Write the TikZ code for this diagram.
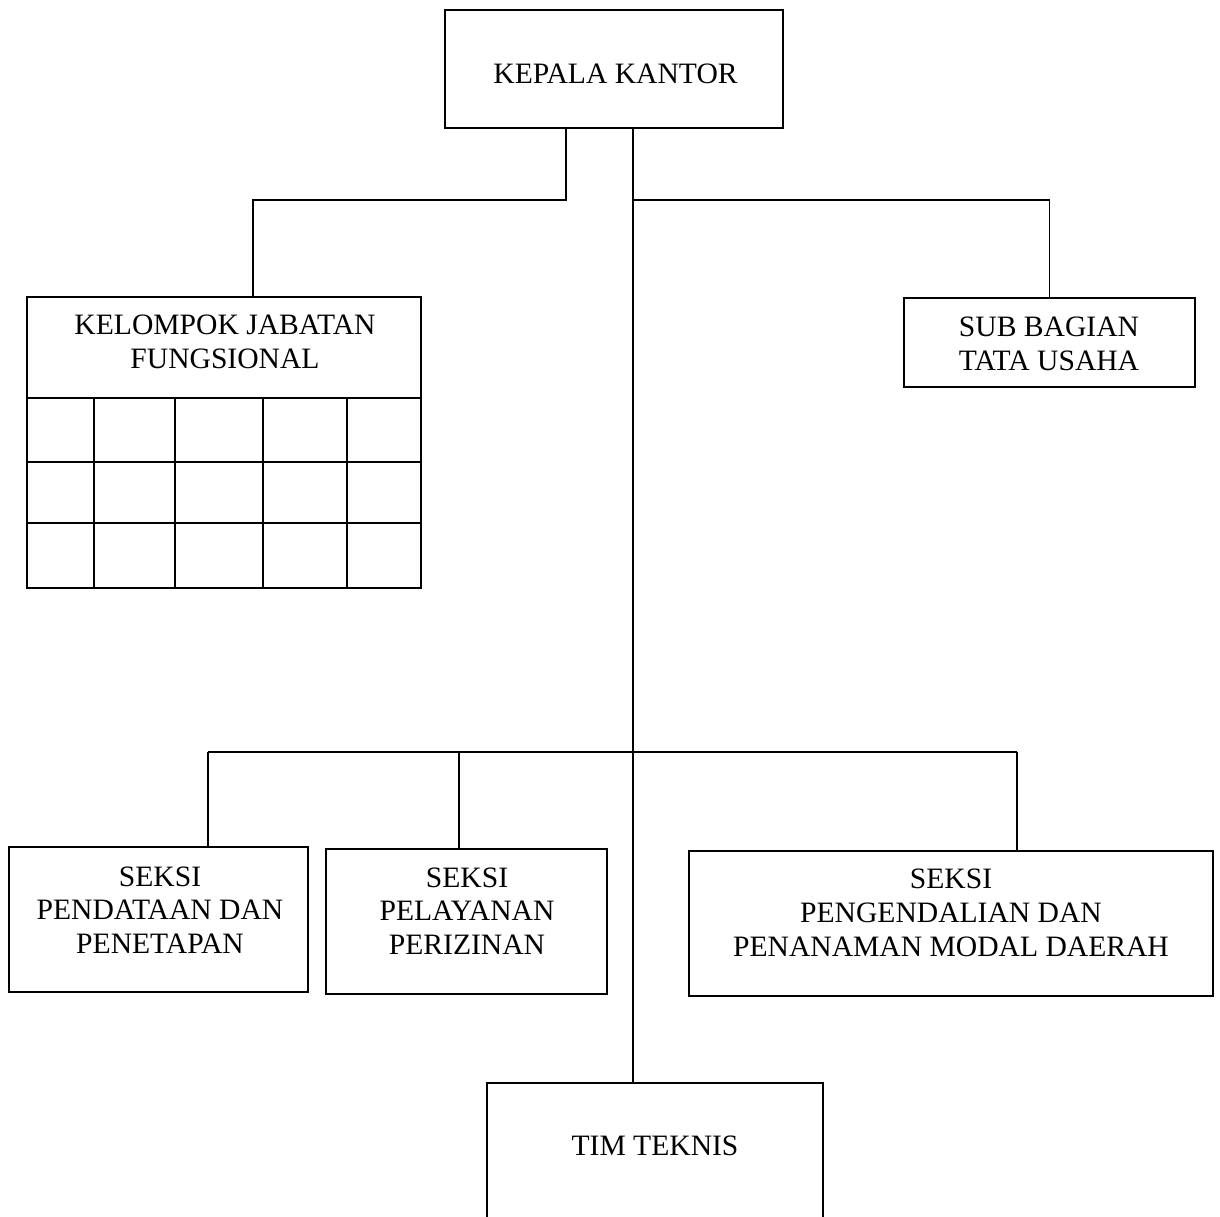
\documentclass[tikz,border=0pt]{standalone}
\usepackage{fontspec}
\setmainfont{Liberation Serif}
\begin{document}
\begin{tikzpicture}[x=0.5pt,y=-0.5pt,line width=0.9pt,
  box/.style={draw,rectangle,inner sep=0pt,outer sep=0pt},
  txt/.style={align=center,inner sep=0pt,font=\fontsize{14.8}{16.9}\selectfont}]
\useasboundingbox (0,0) rectangle (1220,1216);
\clip (0,0) rectangle (1220,1216);
% boxes
\node[box,minimum width=169pt,minimum height=59pt] (kk) at (614,69) {};
\node[box,minimum width=197pt,minimum height=145.5pt] (kjf) at (224,442.5) {};
\node[box,minimum width=145.5pt,minimum height=44.5pt] (sbt) at (1049.5,342.5) {};
\node[box,minimum width=149.5pt,minimum height=72.5pt] (s1) at (158.5,919.5) {};
\node[box,minimum width=140.5pt,minimum height=72.5pt] (s2) at (466.5,921.5) {};
\node[box,minimum width=262pt,minimum height=72.5pt] (s3) at (951,923.5) {};
\node[box,minimum width=168pt,minimum height=75pt] (tt) at (655,1158) {};
% texts
\node[txt] (kkt) at (615.5,74) {KEPALA KANTOR};
\node[txt] (kjft) at (225,342) {KELOMPOK JABATAN\\FUNGSIONAL};
\node[txt] (sbtt) at (1049,344) {SUB BAGIAN\\TATA USAHA};
\node[txt] (s1t) at (160,910) {SEKSI\\PENDATAAN DAN\\PENETAPAN};
\node[txt] (s2t) at (467,911) {SEKSI\\PELAYANAN\\PERIZINAN};
\node[txt] (s3t) at (951,913) {SEKSI\\PENGENDALIAN DAN\\PENANAMAN MODAL DAERAH};
\node[txt] (ttt) at (655,1146) {TIM TEKNIS};
% grid inside kelompok
\draw (27,398) -- (421,398);
\draw (27,462) -- (421,462);
\draw (27,523) -- (421,523);
\foreach \gx in {94,175,263,347} \draw (\gx,398) -- (\gx,588);
% junction coordinates
\coordinate (jl) at (566,200);
\coordinate (jm) at (633,200);
\coordinate (kjfin) at (253,297);
\coordinate (jb) at (633,752);
\coordinate (d1) at (208,752);
\coordinate (d2) at (459,752);
\coordinate (d3) at (1017,752);
% connectors
\draw (kk.south -| jl) -- (jl) -| (kjfin);
\draw (kk.south -| jm) -- (tt.north -| jm);
\draw (jm) -| (sbt.north);
\draw (d1) -- (d3);
\draw (d1) -- (s1.north -| d1);
\draw (d2) -- (s2.north -| d2);
\draw (d3) -- (s3.north -| d3);
\end{tikzpicture}
\end{document}
